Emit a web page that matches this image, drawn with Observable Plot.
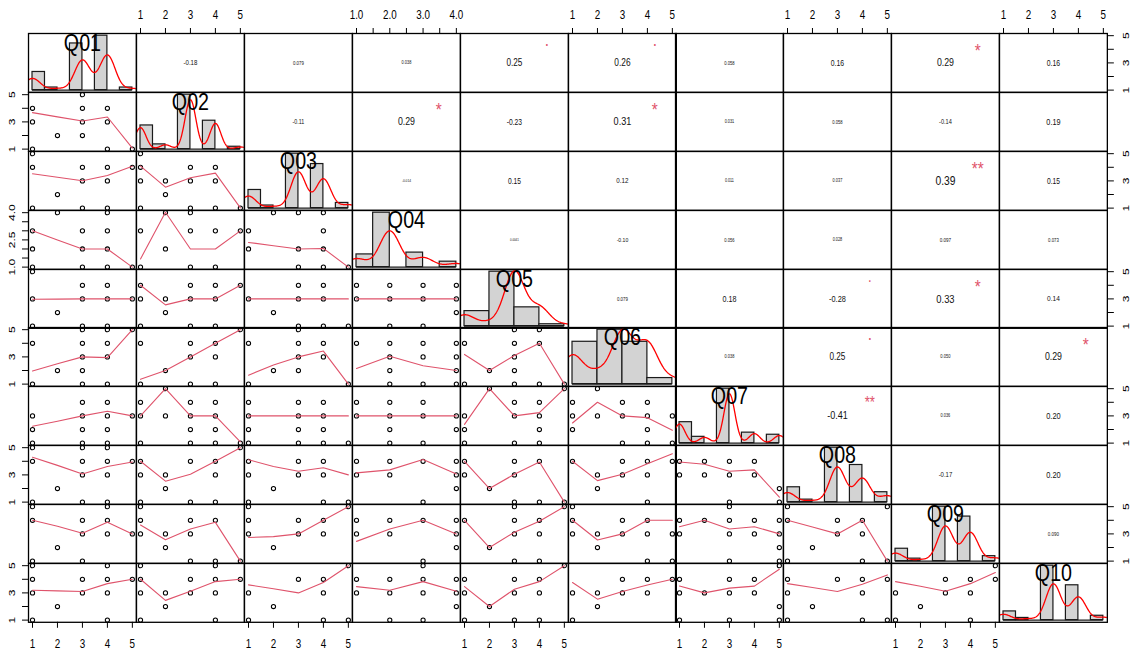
<!DOCTYPE html>
<html><head><meta charset="utf-8">
<script src="https://cdn.jsdelivr.net/npm/d3@7"></script>
<script src="https://cdn.jsdelivr.net/npm/@observablehq/plot@0.6"></script>
<style>
body{margin:0;background:#fff;}
#chart{position:relative;width:1140px;height:661px;overflow:hidden;background:#fff;}
#chart svg{position:absolute;}
</style></head><body><div id="chart"></div>
<script>
// ---------------- DATA ----------------
const variables = ["Q01","Q02","Q03","Q04","Q05","Q06","Q07","Q08","Q09","Q10"];
const valueMin = [1,1,1,1,1,1,1,1,1,1];
const valueMax = [5,5,5,4,5,5,5,5,5,5];
// counts of responses 1..max per variable
const histCounts = [
  [7,1,18,21,1],
  [10,2,23,12,1],
  [7,1,21,17,2],
  [7,30,8,3],
  [6,2,29,10,1],
  [10,4,18,14,2],
  [10,3,26,5,4],
  [6,1,22,15,4],
  [5,1,22,18,2],
  [4,1,25,16,2]
];
const histBinWidth = [0.5,0.5,0.5,0.5,1,1,0.5,0.5,0.5,0.5];
// kernel density bandwidths
const densityBandwidth = [0.31,0.22,0.30,0.30,0.40,0.42,0.22,0.31,0.31,0.30];

// upper triangle, row-major (Q01-Q02, Q01-Q03, ...)
const corrLabels = [
  "-0.18","0.079","0.038","0.25","0.26","0.058","0.16","0.29","0.16",
  "-0.11","0.29","-0.23","0.31","0.031","0.058","-0.14","0.19",
  "-0.014","0.15","0.12","0.011","0.037","0.39","0.15",
  "0.0041","-0.10","0.056","0.028","0.097","0.073",
  "0.079","0.18","-0.28","0.33","0.14",
  "0.038","0.25","0.050","0.29",
  "-0.41","0.036","0.20",
  "-0.17","0.20",
  "0.090"
];
const corrStars = [
  "","","",".",".","","","*","",
  "","*","","*","","","","",
  "","","","","","**","",
  "","","","","","",
  "","",".","*","",
  "",".","","*",
  "**","","",
  "","",
  ""
];

// lower panels: distinct (x,y) response pairs, "xy" = column value, row value
const scatterPairs = {
  "Q02~Q01":"14 13 11 22 35 34 33 32 44 43 41 51",
  "Q03~Q01":"15 14 11 22 34 33 31 44 43 41 54",
  "Q03~Q02":"15 14 13 11 23 22 34 33 31 44 43 41 51",
  "Q04~Q01":"24 13 12 11 33 32 31 44 43 42 41 51",
  "Q04~Q02":"13 11 24 22 34 33 31 43 41 53",
  "Q04~Q03":"24 34 44 13 43 12 32 42 31 41 51",
  "Q05~Q01":"15 34 44 13 33 43 53 22 11 31 41",
  "Q05~Q02":"14 34 44 54 13 23 33 43 22 11 31 41",
  "Q05~Q03":"34 44 13 22 33 43 31 41 51",
  "Q05~Q04":"14 13 24 34 44 23 33 43 42 21 31",
  "Q06~Q01":"14 34 44 33 43 22 32 11 31 41 55 35 45",
  "Q06~Q02":"14 34 44 33 43 22 11 31 41 55",
  "Q06~Q03":"14 34 44 33 43 22 32 11 51 35",
  "Q06~Q04":"14 24 34 44 23 33 43 22 42 21 31 41",
  "Q06~Q05":"14 34 44 33 22 32 11 31 41 51 35 45",
  "Q07~Q01":"34 44 13 33 43 53 12 32 42 11 31 41",
  "Q07~Q02":"14 34 44 13 23 33 43 32 42 25 11 31 41 51",
  "Q07~Q03":"14 34 44 13 33 43 12 32 42 11 31 41 51",
  "Q07~Q04":"14 13 24 34 23 33 43 22 42 21 31",
  "Q07~Q05":"13 25 34 44 33 43 55 12 42 11 31 41",
  "Q07~Q06":"14 34 44 25 13 23 33 43 53 12 42 31 41 51",
  "Q08~Q01":"14 34 44 54 33 43 22 11 31 41 15 35 45",
  "Q08~Q02":"14 34 44 13 23 43 22 11 31 41 55",
  "Q08~Q03":"14 34 44 13 33 43 22 11 41 51",
  "Q08~Q04":"14 13 24 23 34 44 43 42 31",
  "Q08~Q05":"14 34 44 13 33 22 31 41 51",
  "Q08~Q06":"14 34 44 23 33 43 22 41 54",
  "Q08~Q07":"14 24 34 13 23 33 31 44 43 52 51",
  "Q09~Q01":"14 34 44 33 43 53 22 11 31 15 45",
  "Q09~Q02":"14 34 44 13 23 33 22 31 41 51 15",
  "Q09~Q03":"14 34 44 13 33 43 22 55 15",
  "Q09~Q04":"14 13 24 34 44 23 43 42 31",
  "Q09~Q05":"14 34 44 33 43 22 31 41 55 35",
  "Q09~Q06":"14 34 44 13 23 33 43 22 41 53 51 15",
  "Q09~Q07":"14 24 34 13 33 31 44 43 54 53 52 51 35",
  "Q09~Q08":"14 34 44 33 43 22 15 55 11 41 51",
  "Q10~Q01":"14 34 44 54 13 33 43 22 11 41 15 45",
  "Q10~Q02":"14 34 44 54 13 23 33 43 22 11 41 15 45",
  "Q10~Q03":"13 34 44 43 22 11 41 51 55",
  "Q10~Q04":"14 13 24 34 44 23 33 43 42 21 31 35",
  "Q10~Q05":"14 34 44 13 33 43 22 11 31 41 55",
  "Q10~Q06":"34 44 54 13 23 33 43 22 11",
  "Q10~Q07":"14 34 13 23 33 11 31 44 43 52 51 55",
  "Q10~Q08":"14 34 44 54 13 43 22 11 41 51",
  "Q10~Q09":"13 34 44 54 33 43 22 11 41 55"
};
// lowess fitted values at x = 1, 2, 3, ...
const lowessFits = {
  "Q02~Q01":[3.68,3.37,3.07,3.36,1.08],
  "Q03~Q01":[3.52,3.27,3.01,3.40,4.08],
  "Q03~Q02":[4.08,2.54,3.23,3.57,1.02],
  "Q04~Q01":[3.00,2.50,2.00,2.00,1.00],
  "Q04~Q02":[1.45,4.02,2.00,2.00,3.00],
  "Q04~Q03":[2.36,2.18,2.00,2.03,1.00],
  "Q05~Q01":[2.97,2.98,3.00,3.00,3.00],
  "Q05~Q02":[4.00,2.56,3.00,3.00,4.00],
  "Q05~Q03":[3.00,3.00,3.00,3.00,3.00],
  "Q05~Q04":[3.00,3.00,3.00,3.00],
  "Q06~Q01":[1.96,2.49,3.00,2.95,5.00],
  "Q06~Q02":[1.35,2.00,3.00,4.00,5.00],
  "Q06~Q03":[1.66,2.40,3.00,3.43,1.00],
  "Q06~Q04":[2.15,3.05,2.35,2.00],
  "Q06~Q05":[3.18,2.00,3.10,4.00,1.00],
  "Q07~Q01":[2.24,2.61,3.00,3.34,3.00],
  "Q07~Q02":[3.00,5.00,3.00,3.00,1.10],
  "Q07~Q03":[3.00,3.00,3.00,3.00,3.00],
  "Q07~Q04":[3.00,3.00,3.00,3.00],
  "Q07~Q05":[2.38,5.00,3.00,3.24,5.00],
  "Q07~Q06":[2.48,4.00,3.00,2.87,1.94],
  "Q08~Q01":[4.30,3.70,3.07,3.62,3.95],
  "Q08~Q02":[4.00,2.54,3.05,4.00,5.00],
  "Q08~Q03":[4.11,3.62,3.27,3.52,3.00],
  "Q08~Q04":[3.15,3.37,4.13,3.07],
  "Q08~Q05":[4.00,2.00,3.05,3.95,1.00],
  "Q08~Q06":[4.00,2.58,3.05,3.82,4.55],
  "Q08~Q07":[3.95,3.78,3.27,3.37,1.36],
  "Q09~Q01":[4.00,3.56,3.05,3.85,3.00],
  "Q09~Q02":[3.65,2.57,3.36,3.85,1.00],
  "Q09~Q03":[2.74,2.80,3.00,4.00,5.00],
  "Q09~Q04":[2.45,3.36,4.00,3.00],
  "Q09~Q05":[4.00,2.00,3.12,3.93,5.00],
  "Q09~Q06":[4.00,2.55,3.00,4.00,4.00],
  "Q09~Q07":[3.53,4.00,3.36,3.53,3.00],
  "Q09~Q08":[4.00,3.50,3.00,4.00,1.00],
  "Q10~Q01":[3.20,3.15,3.10,3.68,4.00],
  "Q10~Q02":[4.00,2.45,3.12,3.83,4.00],
  "Q10~Q03":[3.59,3.30,3.00,3.76,5.00],
  "Q10~Q04":[3.46,3.20,3.83,3.12],
  "Q10~Q05":[3.46,2.00,3.27,3.83,5.00],
  "Q10~Q06":[3.76,2.54,3.10,3.58,4.00],
  "Q10~Q07":[3.50,3.00,3.35,3.50,4.74],
  "Q10~Q08":[3.68,3.40,3.10,3.64,4.32],
  "Q10~Q09":[3.83,3.49,3.12,3.68,4.49]
};

// axis ticks and labels
const ticks15 = [1,2,3,4,5];
const ticksQ04 = [1,1.5,2,2.5,3,3.5,4];
const xTickLabels15 = [[1,"1"],[2,"2"],[3,"3"],[4,"4"],[5,"5"]];
const xTickLabelsQ04 = [[1,"1.0"],[2,"2.0"],[3,"3.0"],[4,"4.0"]];
const yTickLabels15 = [[1,"1"],[3,"3"],[5,"5"]];
const yTickLabelsQ04 = [[1,"1.0"],[2.5,"2.5"],[4,"4.0"]];

// ---------------- LAYOUT / STYLE ----------------
const FONT = '"Liberation Sans",Arial,sans-serif';
const SQ = 0.82; // horizontal text compression seen in the reference
const GRID = {left: 28.3, top: 33.3, cellW: 107.86, cellH: 58.81};
const SMOOTH = "#DF536B";
const chart = document.getElementById("chart");

const ctx = document.createElement("canvas").getContext("2d");
function emWidth(txt) { ctx.font = `100px ${FONT}`; return ctx.measureText(txt).width / 100; }

function paddedDomain(k) {
  const a = valueMin[k], b = valueMax[k], p = (b - a) * 0.04;
  return [a - p, b + p];
}
const isQ04 = k => valueMax[k] === 4;
const tickVals = k => isQ04(k) ? ticksQ04 : ticks15;
const xLabels = k => isQ04(k) ? xTickLabelsQ04 : xTickLabels15;
const yLabels = k => isQ04(k) ? yTickLabelsQ04 : yTickLabels15;

function rawValues(k) { return histCounts[k].flatMap((c, t) => Array(c).fill(valueMin[k] + t)); }

function histBins(k) {
  const lo = valueMin[k], hi = valueMax[k], w = histBinWidth[k];
  const breaks = d3.range(lo, hi + w / 2, w);
  const vals = rawValues(k), n = vals.length;
  const bins = breaks.slice(0, -1).map((b, t) => ({x1: b, x2: breaks[t + 1], count: 0}));
  for (const v of vals) {
    let t = bins.findIndex(b => v > b.x1 && v <= b.x2);
    if (t < 0) t = 0;
    bins[t].count++;
  }
  bins.forEach(b => b.density = b.count / (n * w));
  return bins;
}

function kde(values, bw) {
  const n = values.length;
  const s = values.slice().sort(d3.ascending);
  const a = s[0] - 3 * bw, b = s[n - 1] + 3 * bw;
  return d3.range(300).map(t => {
    const x = a + (b - a) * t / 299;
    const y = d3.sum(s, v => Math.exp(-0.5 * ((x - v) / bw) ** 2)) / (n * bw * Math.sqrt(2 * Math.PI));
    return {x, y};
  });
}

function parsePairs(str) {
  return str.split(" ").map(p => ({x: +p[0], y: +p[1]}));
}

const corrIndex = {};
{ let c = 0; for (let i = 0; i < 10; i++) for (let j = i + 1; j < 10; j++) corrIndex[i + "," + j] = c++; }

function axisMarks(i, j) {
  const m = [];
  if (i === 0 && j % 2 === 1) {
    const lab = new Map(xLabels(j));
    m.push(Plot.axisX({anchor: "top", ticks: tickVals(j), tickFormat: d => lab.get(d) ?? "", tickSize: 6, tickPadding: 9, label: null}));
  }
  if (i === 9 && j % 2 === 0) {
    const lab = new Map(xLabels(j));
    m.push(Plot.axisX({anchor: "bottom", ticks: tickVals(j), tickFormat: d => lab.get(d) ?? "", tickSize: 6, tickPadding: 11, label: null}));
  }
  if (j === 0 && i % 2 === 1) {
    m.push(Plot.axisY({anchor: "left", ticks: tickVals(i), tickFormat: () => "", tickSize: 6, label: null}));
    m.push(Plot.text(yLabels(i), {y: d => d[0], text: d => d[1], frameAnchor: "left", rotate: -90, textAnchor: "middle", lineAnchor: "middle", dx: -16.6, fontSize: 12, fill: "black"}));
  }
  if (j === 9 && i % 2 === 0) {
    m.push(Plot.axisY({anchor: "right", ticks: tickVals(i), tickFormat: () => "", tickSize: 6, label: null}));
    m.push(Plot.text(yLabels(i), {y: d => d[0], text: d => d[1], frameAnchor: "right", rotate: -90, textAnchor: "middle", lineAnchor: "middle", dx: 19, fontSize: 12, fill: "black"}));
  }
  return m;
}

for (let i = 0; i < 10; i++) {
  for (let j = 0; j < 10; j++) {
    const marks = [];
    let xOpt, yOpt;
    if (i === j) {
      const bins = histBins(i);
      const dens = kde(rawValues(i), densityBandwidth[i]);
      const maxD = d3.max(bins, b => b.density);
      xOpt = {domain: paddedDomain(i), axis: null};
      yOpt = {domain: [-0.04 * maxD, 1.04 * maxD], axis: null};
      marks.push(Plot.rect(bins, {x1: "x1", x2: "x2", y1: 0, y2: "density", fill: "#D3D3D3", stroke: "#1a1a1a", strokeWidth: 1.2}));
      marks.push(Plot.ruleY([0], {x1: valueMin[i], x2: valueMax[i], stroke: "#1a1a1a", strokeWidth: 1.2}));
      marks.push(Plot.line(dens, {x: "x", y: "y", stroke: "red", strokeWidth: 1.3, clip: true}));
      marks.push(Plot.text([variables[i]], {frameAnchor: "middle", dy: -GRID.cellH / 3, fontSize: 24, fill: "black"}));
    } else if (i < j) {
      const dx = paddedDomain(j), dy = paddedDomain(i);
      xOpt = {domain: dx, axis: null};
      yOpt = {domain: dy, axis: null};
      const c = corrIndex[i + "," + j];
      const label = corrLabels[c], stars = corrStars[c];
      const r = Math.abs(+label);
      const ew = emWidth(label) * SQ;
      const fs = 29 * (r + 0.3) / ew;
      const xm = (dx[0] + dx[1]) / 2, ym = (dy[0] + dy[1]) / 2;
      marks.push(Plot.text([label], {x: () => xm, y: () => ym, text: d => d, fontSize: fs, fill: "#111"}));
      if (stars) {
        const sfs = 30 / ew;
        const xs = dx[0] + 0.8 * (dx[1] - dx[0]), ys = dy[0] + 0.8 * (dy[1] - dy[0]);
        marks.push(Plot.text([stars], {x: () => xs, y: () => ys, text: d => d, fontSize: sfs, fill: SMOOTH,
          dy: stars === "." ? -0.27 * sfs : 0.3 * sfs}));
      }
    } else {
      xOpt = {domain: paddedDomain(j), axis: null};
      yOpt = {domain: paddedDomain(i), axis: null};
      const key = variables[i] + "~" + variables[j];
      const pts = parsePairs(scatterPairs[key]);
      const fit = lowessFits[key].map((v, t) => ({x: valueMin[j] + t, y: v}));
      marks.push(Plot.dot(pts, {x: "x", y: "y", r: 2.1, stroke: "black", strokeWidth: 1.05, fill: "none"}));
      marks.push(Plot.line(fit, {x: "x", y: "y", stroke: SMOOTH, strokeWidth: 1.1}));
    }
    marks.push(...axisMarks(i, j));
    marks.push(Plot.frame({stroke: "black", strokeWidth: 1.3}));
    const svg = Plot.plot({
      width: GRID.cellW, height: GRID.cellH, margin: 0,
      style: {background: "transparent", overflow: "visible", fontFamily: FONT, fontSize: "12px", color: "black"},
      x: xOpt, y: yOpt, marks
    });
    // narrow the text horizontally as in the reference rendering
    svg.querySelectorAll("text").forEach(t => {
      const tr = t.getAttribute("transform") || "";
      t.setAttribute("transform", tr + (/rotate/.test(tr) ? ` scale(1,${SQ})` : ` scale(${SQ},1)`));
    });
    svg.style.left = (GRID.left + j * GRID.cellW) + "px";
    svg.style.top = (GRID.top + i * GRID.cellH) + "px";
    svg.style.overflow = "visible";
    chart.appendChild(svg);
  }
}
</script>
</body></html>
